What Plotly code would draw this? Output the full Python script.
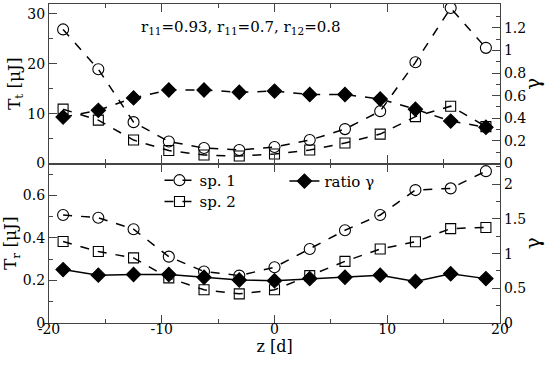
import plotly.graph_objects as go

# z positions [d]
z = [-18.75, -15.625, -12.5, -9.375, -6.25, -3.125, 0, 3.125, 6.25, 9.375, 12.5, 15.625, 18.75]
z_ticks = [-20, -10, 0, 10, 20]
z_labels = ["-20", "-10", "0", "10", "20"]

# transmitted energy T_t [uJ] and ratio
tt_sp1 = [26.9, 18.9, 8.3, 4.4, 3.1, 2.7, 3.3, 4.7, 6.9, 10.5, 20.3, 31.2, 23.2]
tt_sp2 = [10.9, 8.7, 4.7, 2.6, 1.7, 1.5, 1.9, 2.7, 4.1, 5.9, 9.4, 11.5, 7.4]
tt_ratio = [0.41, 0.47, 0.58, 0.65, 0.65, 0.63, 0.64, 0.61, 0.61, 0.57, 0.48, 0.375, 0.32]

# reflected energy T_r [uJ] and ratio
tr_sp1 = [0.508, 0.495, 0.441, 0.312, 0.242, 0.223, 0.262, 0.348, 0.436, 0.508, 0.625, 0.633, 0.714]
tr_sp2 = [0.383, 0.336, 0.306, 0.212, 0.156, 0.137, 0.156, 0.223, 0.29, 0.348, 0.382, 0.444, 0.449]
tr_ratio = [0.77, 0.69, 0.70, 0.70, 0.66, 0.62, 0.61, 0.64, 0.66, 0.69, 0.60, 0.71, 0.64]

FONT = "DejaVu Serif"
FS = 14
FRAME = "#444444"


def series(x, y, name, symbol, dash, xaxis, yaxis, legend=None):
    return go.Scatter(
        x=x, y=y, name=name, mode="lines+markers",
        xaxis=xaxis, yaxis=yaxis,
        line=dict(color="black", width=1.5, dash=dash),
        marker=dict(symbol=symbol, size=11 if symbol != "square-open" else 10,
                    color="black", line=dict(color="black", width=1.1)),
        showlegend=legend is not None,
        legend=legend or "legend",
    )


def yaxis_style(rng, tickvals, minor, domain, side="left", overlay=None, anchor=None, title=None, tsize=17):
    ax = dict(
        range=rng, domain=domain, side=side,
        tickmode="array", tickvals=tickvals,
        ticks="inside", ticklen=8, tickwidth=1.2, tickcolor=FRAME,
        minor=dict(tickmode="array", tickvals=minor, ticks="inside", ticklen=4, tickwidth=1.2, tickcolor=FRAME),
        showline=True, linecolor=FRAME, linewidth=1.2,
        showgrid=False, zeroline=False,
        tickfont=dict(family=FONT, size=FS, color="black"),
    )
    if overlay:
        ax["overlaying"] = overlay
    if anchor:
        ax["anchor"] = anchor
    if title:
        ax["title"] = dict(text=title, font=dict(family=FONT, size=tsize, color="black"), standoff=2)
    return ax


def legend_box(x, y):
    return dict(x=x, y=y, xanchor="left", yanchor="middle",
                bgcolor="rgba(0,0,0,0)", font=dict(family=FONT, size=FS + 1), itemwidth=30)


fig = go.Figure()

# top panel
fig.add_trace(series(z, tt_sp1, "sp. 1", "circle-open", "dash", "x2", "y3"))
fig.add_trace(series(z, tt_sp2, "sp. 2", "square-open", "dash", "x2", "y3"))
fig.add_trace(series(z, tt_ratio, "ratio γ", "diamond", "dash", "x2", "y4"))

# bottom panel
fig.add_trace(series(z, tr_sp1, "sp. 1", "circle-open", "dash", "x", "y", legend="legend"))
fig.add_trace(series(z, tr_sp2, "sp. 2", "square-open", "dash", "x", "y", legend="legend3"))
fig.add_trace(series(z, tr_ratio, "ratio γ", "diamond", "solid", "x", "y2", legend="legend2"))

xstyle = dict(
    range=[-20, 20], tickmode="array", tickvals=z_ticks, ticktext=z_labels,
    ticks="inside", ticklen=8, tickwidth=1.2, tickcolor=FRAME,
    minor=dict(tickvals=[-15, -5, 5, 15], ticks="inside", ticklen=4, tickwidth=1.2, tickcolor=FRAME),
    showline=True, linecolor=FRAME, linewidth=1.2, mirror="ticks",
    showgrid=False, zeroline=False,
    tickfont=dict(family=FONT, size=FS, color="black"),
)

fig.update_layout(
    width=545, height=368,
    margin=dict(l=49, r=43, t=3, b=45),
    paper_bgcolor="white", plot_bgcolor="white",
    font=dict(family=FONT, size=FS, color="black"),
    xaxis=dict(xstyle, anchor="y", ticklabelstandoff=-7,
               title=dict(text="z [d]", font=dict(family=FONT, size=16), standoff=4)),
    xaxis2=dict(xstyle, anchor="y3", showticklabels=False, matches="x"),
    yaxis=yaxis_style([0, 0.75], [0, 0.2, 0.4, 0.6], [0.1, 0.3, 0.5, 0.7], [0, 0.5],
                      anchor="x", title="T<sub>r</sub> [μJ]"),
    yaxis2=yaxis_style([0, 2.3], [0, 0.5, 1, 1.5, 2], [0.25, 0.75, 1.25, 1.75, 2.25], [0, 0.5],
                       side="right", overlay="y", anchor="x", title="γ", tsize=20),
    yaxis3=yaxis_style([0, 32], [0, 10, 20, 30], [5, 15, 25], [0.5, 1],
                       anchor="x2", title="T<sub>t</sub> [μJ]"),
    yaxis4=yaxis_style([0, 1.41], [0, 0.2, 0.4, 0.6, 0.8, 1, 1.2],
                       [0.1, 0.3, 0.5, 0.7, 0.9, 1.1, 1.3], [0.5, 1],
                       side="right", overlay="y3", anchor="x2", title="γ", tsize=20),
    legend=legend_box(0.245, 0.447),
    legend3=legend_box(0.245, 0.38),
    legend2=legend_box(0.522, 0.444),
    annotations=[dict(
        text="r<sub>11</sub>=0.93, r<sub>11</sub>=0.7, r<sub>12</sub>=0.8",
        xref="paper", yref="paper", x=0.426, y=0.925, xanchor="center", yanchor="middle",
        showarrow=False, font=dict(family=FONT, size=FS + 1, color="black"),
    )],
)

# drop the default page margin so the figure sits at the window corner
fig.write_html("out.html", config={"displayModeBar": False},
               post_script="document.body.style.margin='0';")
